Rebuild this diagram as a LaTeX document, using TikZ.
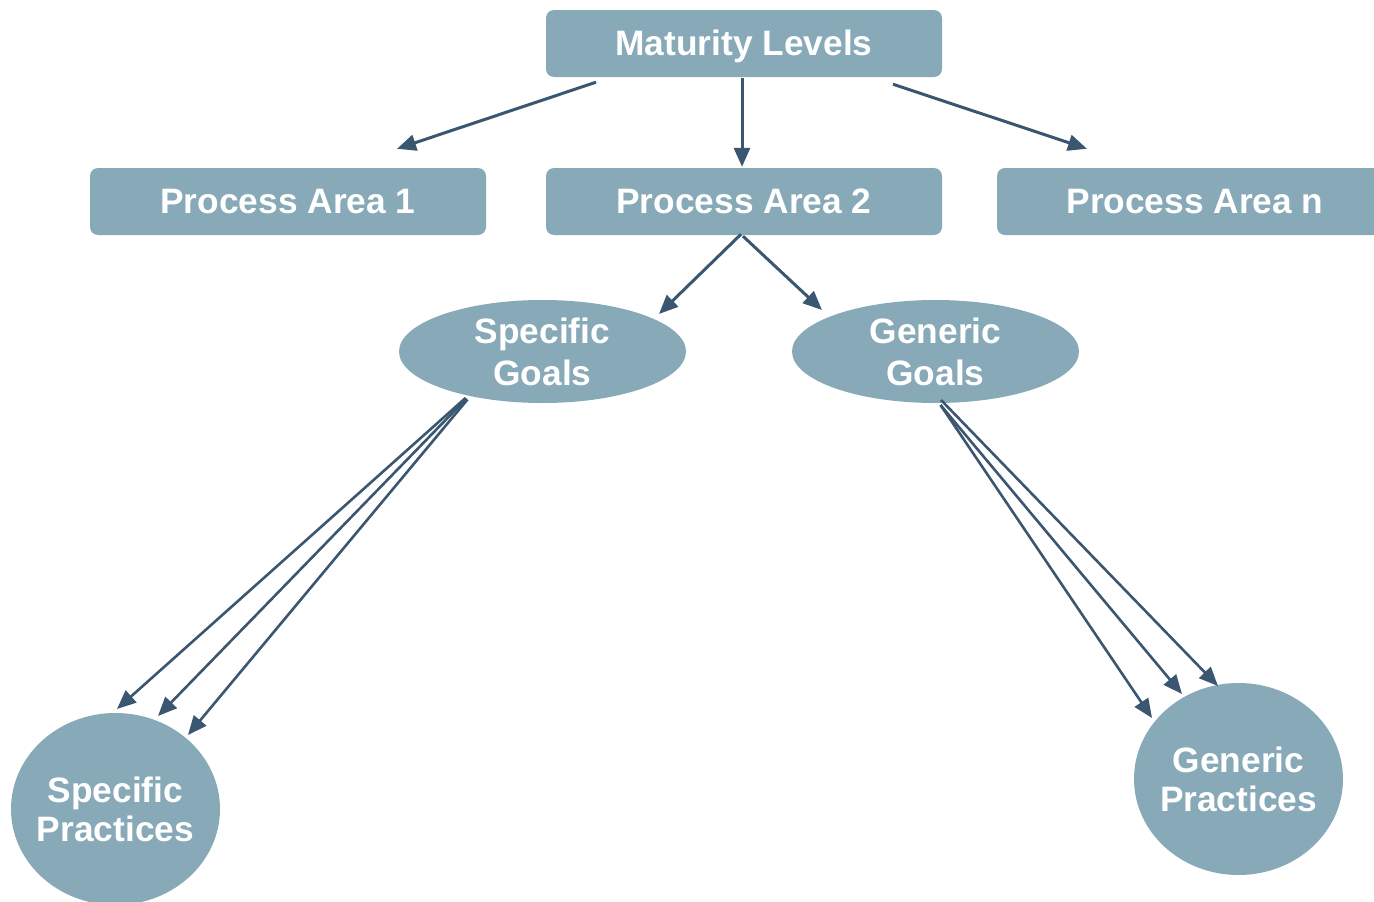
\documentclass[tikz,border=0pt]{standalone}
\usepackage{fontspec}
\setmainfont{Liberation Sans}
\usetikzlibrary{arrows.meta,shapes.geometric}
\definecolor{boxfill}{HTML}{88AAB8}
\definecolor{arrowcol}{HTML}{3B5670}
\tikzset{
  box/.style={draw=none,fill=boxfill,rounded corners=8pt,minimum width=396pt,minimum height=67pt,inner sep=0pt,text height=24pt,text depth=0pt,text=white,font=\fontsize{35.3}{40}\selectfont\bfseries},
  oval/.style={ellipse,draw=none,fill=boxfill,minimum width=287pt,minimum height=103pt,inner sep=0pt,text=white,align=center,font=\fontsize{35.3}{42}\selectfont\bfseries},
  blob/.style={ellipse,draw=none,fill=boxfill,minimum width=209pt,minimum height=192pt,inner xsep=-8pt,inner ysep=0pt,text=white,align=center,font=\fontsize{35.3}{39}\selectfont\bfseries},
  arr/.style={draw=arrowcol,line width=3pt,-{Triangle[length=19pt,width=16pt]}},
  arrthin/.style={draw=arrowcol,line width=2.6pt,-{Triangle[length=19pt,width=16pt]}}
}
\begin{document}
\begin{tikzpicture}[x=1pt,y=-1pt]
\useasboundingbox (0,0) rectangle (1374,902);
\clip (0,0) rectangle (1374,902);
\node[box] (ml) at (744,43.5) {Maturity Levels};
\node[box] (pa1) at (288,201.5) {Process Area 1};
\node[box] (pa2) at (744,201.5) {Process Area 2};
\node[box] (pan) at (1195,201.5) {Process Area n};
\node[oval] (sg) at (542.5,351.5) {Specific\\Goals};
\node[oval] (gg) at (935.5,351.5) {Generic\\Goals};
\node[blob] (sp) at (115.5,809) {Specific\\Practices};
\node[blob] (gp) at (1238.5,779) {Generic\\Practices};
% top arrows
\draw[arr] ([shift={(-148,5)}]ml.south) -- ([shift={(109,-19)}]pa1.north);
\draw[arr] ([shift={(-2,1)}]ml.south) -- ([shift={(-2,-1)}]pa2.north);
\draw[arr] ([shift={(149,7)}]ml.south) -- ([shift={(-108,-19)}]pan.north);
% PA2 to goals
\draw[arr] ([shift={(-3,-1)}]pa2.south) -- ([shift={(116.5,-37.5)}]sg.center);
\draw[arr] ([shift={(-1,1)}]pa2.south) -- ([shift={(-113.5,-41.5)}]gg.center);
% goals to practices
\draw[arrthin] ([shift={(-77,46.5)}]sg.center) -- ([shift={(1.5,-100)}]sp.center);
\draw[arrthin] ([shift={(-76,47)}]sg.center) -- ([shift={(42.5,-93)}]sp.center);
\draw[arrthin] ([shift={(-75,48)}]sg.center) -- ([shift={(72.5,-74)}]sp.center);
\draw[arrthin] ([shift={(5,53.5)}]gg.center) -- ([shift={(-86.5,-61)}]gp.center);
\draw[arrthin] ([shift={(5,53.5)}]gg.center) -- ([shift={(-56.5,-85)}]gp.center);
\draw[arrthin] ([shift={(5.5,48.5)}]gg.center) -- ([shift={(-20.5,-93)}]gp.center);
\end{tikzpicture}
\end{document}
